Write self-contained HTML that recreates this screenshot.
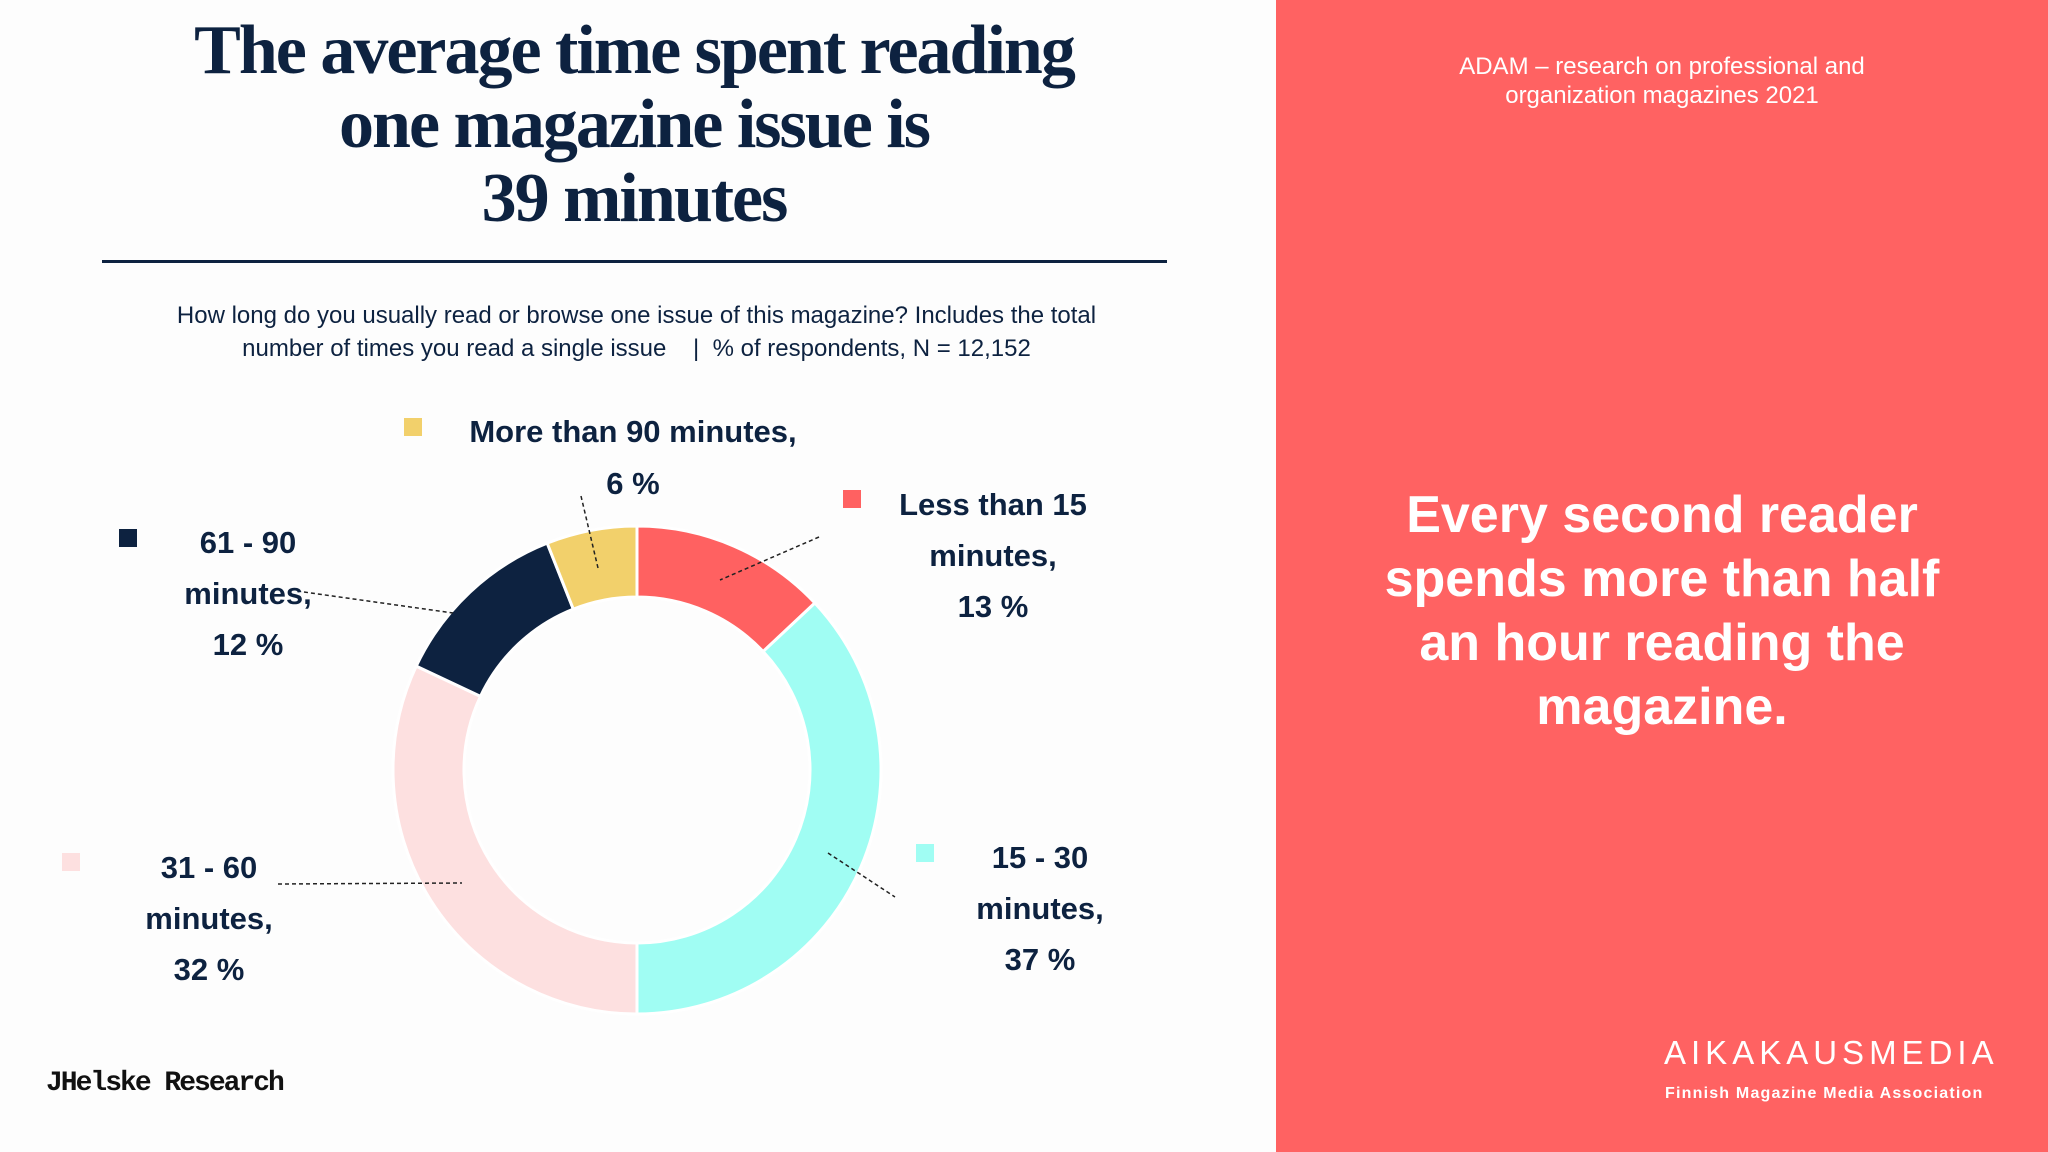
<!DOCTYPE html>
<html><head><meta charset="utf-8"><style>
html,body{margin:0;padding:0}
body{width:2048px;height:1152px;position:relative;overflow:hidden;background:#fdfdfd;font-family:"Liberation Sans",sans-serif;color:#0d2240}
.t{position:absolute;white-space:nowrap}
#title{left:0;width:1268px;top:14px;text-align:center;font-family:"Liberation Serif",serif;font-weight:bold;font-size:70px;line-height:74px;letter-spacing:-2px;color:#0d2240}
#rule{position:absolute;left:102px;top:260px;width:1065px;height:3px;background:#0d2240}
#sub{left:0;width:1273px;top:299px;text-align:center;font-size:24px;line-height:33px}
#panel{position:absolute;left:1276px;top:0;width:772px;height:1152px;background:#ff6262}
.w{color:#fff;text-align:center}
</style></head><body>
<div id="title" class="t">The average time spent reading<br>one magazine issue is<br>39 minutes</div>
<div id="rule"></div>
<div id="sub" class="t">How long do you usually read or browse one issue of this magazine? Includes the total<br>number of times you read a single issue &nbsp;&nbsp;&nbsp;|&nbsp;&nbsp;% of respondents, N = 12,152</div>
<svg id="chart" width="1276" height="1152" style="position:absolute;left:0;top:0"></svg>
<div class="t" style="left:46px;top:1068px;font-family:'Liberation Mono',monospace;font-weight:bold;font-size:28px;letter-spacing:-2px;color:#111">JHelske Research</div>
<div id="panel">
<div class="t w" style="left:0;width:772px;top:52px;font-size:24px;line-height:29px">ADAM – research on professional and<br>organization magazines 2021</div>
<div class="t w" style="left:0;width:772px;top:483px;font-size:52px;line-height:64px;font-weight:bold">Every second reader<br>spends more than half<br>an hour reading the<br>magazine.</div>
<div class="t w" style="left:388px;top:1034px;font-size:33px;letter-spacing:5px;font-weight:normal">AIKAKAUSMEDIA</div>
<div class="t w" style="left:389px;top:1085px;font-size:16px;font-weight:bold;letter-spacing:1.2px">Finnish Magazine Media Association</div>
</div>
<script>
const categories=["Less than 15 minutes","15 - 30 minutes","31 - 60 minutes","61 - 90 minutes","More than 90 minutes"];
const values=[13,37,32,12,6];
const colors=["#ff6161","#a0fdf3","#fde0e0","#0d2240","#f2d06b"];
const labelLines=[["Less than 15","minutes,","13 %"],["15 - 30","minutes,","37 %"],["31 - 60","minutes,","32 %"],["61 - 90","minutes,","12 %"],["More than 90 minutes,","6 %"]];
const NS="http://www.w3.org/2000/svg";
const svg=document.getElementById('chart');
const cx=637,cy=770,R=244,r=173;
const total=values.reduce((a,b)=>a+b,0);
function pt(a,rad){return [cx+rad*Math.sin(a),cy-rad*Math.cos(a)];}
let acc=0;
values.forEach((v,i)=>{
  const a0=acc/total*2*Math.PI; acc+=v; const a1=acc/total*2*Math.PI;
  const lg=(a1-a0)>Math.PI?1:0;
  const p0=pt(a0,R),p1=pt(a1,R),q1=pt(a1,r),q0=pt(a0,r);
  const p=document.createElementNS(NS,'path');
  p.setAttribute('d',`M${p0}L${p0}A${R},${R} 0 ${lg} 1 ${p1}L${q1}A${r},${r} 0 ${lg} 0 ${q0}Z`);
  p.setAttribute('fill',colors[i]);p.setAttribute('stroke','#fff');p.setAttribute('stroke-width','3');
  
  
  svg.appendChild(p);
});
const L=[
 {sq:[852,499],cx:993,y:[504,555,606],ln:[[819,537],[720,580]]},
 {sq:[925,853],cx:1040,y:[857,908,959],ln:[[828,853],[895,897]]},
 {sq:[71,862],cx:209,y:[867,918,969],ln:[[278,884],[462,883]]},
 {sq:[128,538],cx:248,y:[542,593,644],ln:[[304,592],[453,613]]},
 {sq:[413,427],cx:633,y:[431,483],ln:[[581,496],[598,568]]}
];
L.forEach((o,i)=>{
  const s=document.createElementNS(NS,'rect');
  s.setAttribute('x',o.sq[0]-9);s.setAttribute('y',o.sq[1]-9);s.setAttribute('width',18);s.setAttribute('height',18);s.setAttribute('fill',colors[i]);
  
  
  svg.appendChild(s);
  const l=document.createElementNS(NS,'line');
  l.setAttribute('x1',o.ln[0][0]);l.setAttribute('y1',o.ln[0][1]);l.setAttribute('x2',o.ln[1][0]);l.setAttribute('y2',o.ln[1][1]);
  l.setAttribute('stroke','#222');l.setAttribute('stroke-width','1.5');l.setAttribute('stroke-dasharray','4 3');
  
  
  svg.appendChild(l);
  labelLines[i].forEach((txt,j)=>{
    const t=document.createElementNS(NS,'text');
    t.setAttribute('x',o.cx);t.setAttribute('y',o.y[j]+11);t.setAttribute('text-anchor','middle');
    t.setAttribute('font-family','Liberation Sans, sans-serif');t.setAttribute('font-size','31');t.setAttribute('font-weight','bold');t.setAttribute('fill','#0d2240');
    t.textContent=txt;
    
    
    svg.appendChild(t);
  });
});
</script>
</body></html>
